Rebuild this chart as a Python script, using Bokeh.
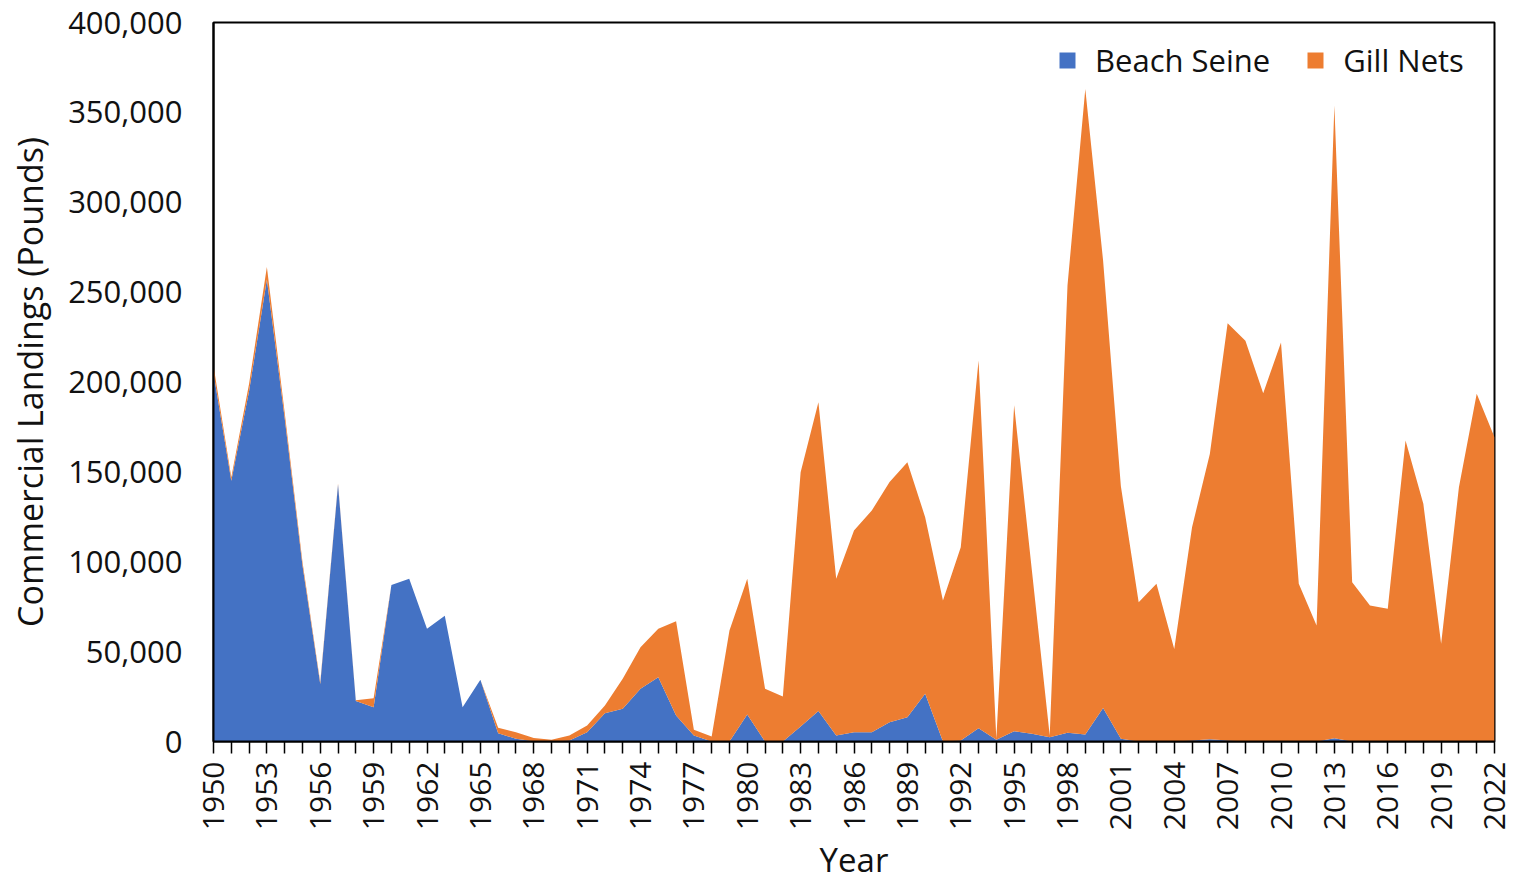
from bokeh.plotting import figure
from bokeh.models import ColumnDataSource, FixedTicker, NumeralTickFormatter, Range1d, Legend, LegendItem
from bokeh.embed import file_html
from bokeh.resources import INLINE
import math

years = list(range(1950, 2023))

beach_seine = [
    205000, 145000, 195000, 257000, 180000, 98000, 32000, 143000, 22500, 19000,
    87000, 90500, 62700, 70000, 19000, 34300, 4600, 1500, 200, 0,
    500, 5200, 15700, 18200, 29300, 35800, 14500, 3300, 0, 0,
    15000, 0, 0, 8300, 16900, 3300, 5200, 5200, 10700, 13500,
    26500, 0, 500, 7400, 1000, 5700, 4300, 2300, 4800, 3900,
    18700, 1500, 0, 0, 0, 600, 1200, 500, 0, 0,
    0, 0, 0, 1800, 0, 0, 0, 0, 0, 0,
    0, 0, 0,
]

gill_nets = [
    4000, 2000, 4000, 7000, 3000, 2000, 1000, 500, 500, 5000,
    0, 0, 0, 0, 0, 0, 3000, 3700, 1800, 1000,
    2800, 3700, 4300, 16700, 23200, 26900, 52400, 3200, 2800, 61700,
    75500, 29300, 25000, 141500, 171900, 87200, 112200, 123300, 133600, 141900,
    98300, 78400, 107500, 204600, 500, 181300, 90700, 1000, 248900, 359100,
    248900, 140500, 77500, 87700, 51500, 118600, 158800, 232200, 223000, 193800,
    222000, 87700, 64500, 352000, 88600, 75700, 73800, 167500, 132200, 54400,
    141500, 193400, 169300,
]

series_names = ["Beach Seine", "Gill Nets"]
series_colors = ["#4472C4", "#ED7D31"]
x_tick_labels = {y: (str(y) if (y - 1950) % 3 == 0 else "") for y in years}

FONT = "Open Sans"
TEXT = "#111111"

source = ColumnDataSource(dict(year=years, beach=beach_seine, gill=gill_nets))

p = figure(
    frame_width=1281, frame_height=719,
    min_border_left=213, min_border_top=22, min_border_right=20, min_border_bottom=120,
    x_range=Range1d(1950, 2022), y_range=Range1d(0, 400000),
    output_backend="svg", toolbar_location=None,
)

renderers = p.varea_stack(["beach", "gill"], x="year", source=source, color=series_colors)

p.xgrid.visible = False
p.ygrid.visible = False
p.outline_line_color = "black"
p.outline_line_width = 2
p.background_fill_color = "white"
p.border_fill_color = "white"

# x axis
xa = p.xaxis[0]
xa.ticker = FixedTicker(ticks=years)
xa.major_label_overrides = x_tick_labels
xa.major_label_orientation = math.pi / 2
xa.major_tick_out = 12
xa.major_tick_in = 0
xa.major_tick_line_width = 1.5
xa.major_tick_line_color = "black"
xa.minor_tick_line_color = None
xa.axis_line_color = "black"
xa.axis_line_width = 2
xa.major_label_text_font = FONT
xa.major_label_text_font_size = "30px"
xa.major_label_text_color = TEXT
xa.major_label_standoff = 8
xa.axis_label = "Year"
xa.axis_label_text_font = FONT
xa.axis_label_text_font_size = "33px"
xa.axis_label_text_font_style = "normal"
xa.axis_label_text_color = TEXT
xa.axis_label_standoff = 4

# y axis
ya = p.yaxis[0]
ya.ticker = FixedTicker(ticks=[0, 50000, 100000, 150000, 200000, 250000, 300000, 350000, 400000])
ya.formatter = NumeralTickFormatter(format="0,0")
ya.major_tick_out = 0
ya.major_tick_in = 0
ya.minor_tick_line_color = None
ya.axis_line_color = "black"
ya.axis_line_width = 2
ya.major_label_text_font = FONT
ya.major_label_text_font_size = "31px"
ya.major_label_text_color = TEXT
ya.major_label_standoff = 31
ya.axis_label = "Commercial Landings (Pounds)"
ya.axis_label_text_font = FONT
ya.axis_label_text_font_size = "34px"
ya.axis_label_text_font_style = "normal"
ya.axis_label_text_color = TEXT
ya.axis_label_standoff = 12

legend = Legend(
    items=[LegendItem(label=n, renderers=[r]) for n, r in zip(series_names, renderers)],
    location=(844, 660),
    orientation="horizontal",
    label_text_font=FONT,
    label_text_font_size="31px",
    label_text_color=TEXT,
    glyph_width=20, glyph_height=20,
    label_standoff=18,
    spacing=35,
    margin=0, padding=0,
    border_line_color=None,
    background_fill_alpha=0,
)
p.add_layout(legend)

open("out.html", "w").write(file_html(p, INLINE))
